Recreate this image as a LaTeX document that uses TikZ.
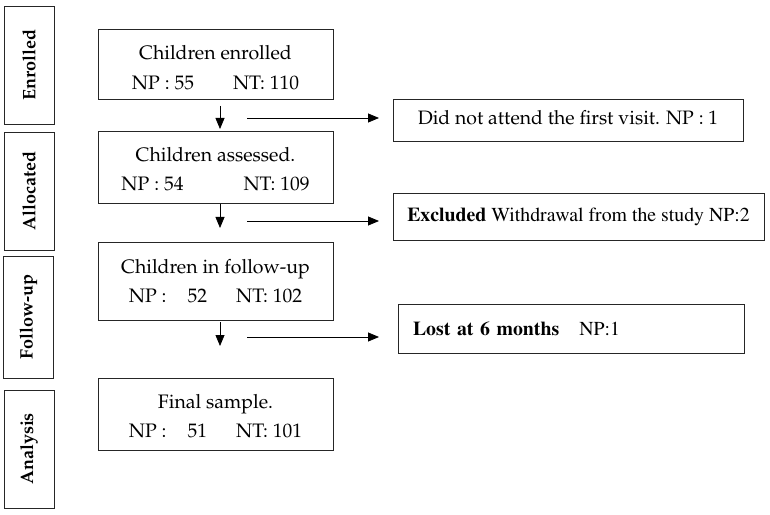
\documentclass[tikz,border=0pt]{standalone}
\usepackage[T1]{fontenc}
\usepackage{mathpazo}
\usepackage{tikz}
\usetikzlibrary{arrows.meta}

\newcommand{\timesfont}{\fontfamily{ptm}\selectfont}
\newcommand{\headroom}[1]{\rule{0pt}{#1}}

\tikzset{
    stagebox/.style = {draw=black!85, line width=0.8bp, rotate=90, minimum width=118bp,
                       minimum height=50bp, inner sep=0pt, font=\fontsize{18bp}{20bp}\selectfont\bfseries},
    countbox/.style = {draw=black!85, line width=0.8bp, minimum width=235bp, inner sep=0pt,
                       align=center, font=\fontsize{19.5bp}{29.5bp}\selectfont},
    dropbox/.style  = {draw=black!85, line width=0.8bp, inner sep=0pt,
                       font=\fontsize{19.4bp}{24bp}\selectfont},
    timesbox/.style = {dropbox, font=\timesfont\fontsize{19.8bp}{24bp}\selectfont},
    flow/.style     = {line width=0.8bp, -{Triangle[length=11bp, width=9bp]}}
}

\begin{document}
\begin{tikzpicture}[x=1bp, y=-1bp]
            \useasboundingbox (0, 0) rectangle (770, 515);

            % stages on the left
            \node[stagebox] (S1) at (29, 65) {Enrolled};
            \node[stagebox] (S2) at (29, 191) {Allocated};
            \node[stagebox, minimum width=122bp] (S3) at (28.5, 317) {Follow-up};
            \node[stagebox] (S4) at (29, 449) {Analysis};

            % counts per stage
            \node[countbox, minimum height=70bp] (C1) at (215.5, 64) {\headroom{21bp}Children enrolled\\NP : 55\hspace{39bp}NT: 110};
            \node[countbox, minimum height=72bp] (C2) at (215.5, 167) {\headroom{18bp}Children assessed.\\NP : 54\hspace{60bp}NT: 109};
            \node[countbox, minimum height=78bp] (C3) at (215.5, 281) {Children in follow-up\\NP :\hspace{21bp}52\hspace{29bp}NT: 102};
            \node[countbox, minimum height=72bp] (C4) at (215.5, 414) {\headroom{18bp}Final sample.\\NP :\hspace{21bp}51\hspace{29bp}NT: 101};

            % children dropped out
            \node[dropbox, minimum width=350bp, minimum height=42bp, text height=14bp, text depth=5bp] (D1) at (568, 120) {Did not attend the first visit. NP : 1};
            \node[timesbox, minimum width=371bp, minimum height=47bp] (D2) at (578.5, 217) {\textbf{Excluded} Withdrawal from the study NP:2};
            \node[timesbox, minimum height=49bp, text width=316bp, inner xsep=15bp, align=left] (D3) at (571, 328.5) {\textbf{Lost at 6 months}\hspace{20bp}NP:1};

            \coordinate (V1a) at (220, 106);
            \coordinate (V1b) at (220, 129);
            \coordinate (V2a) at (220, 204);
            \coordinate (V2b) at (220, 228);
            \coordinate (V3a) at (220, 322);
            \coordinate (V3b) at (220, 346);
            \coordinate (H1a) at (247, 118);
            \coordinate (H1b) at (379, 118);
            \coordinate (H2a) at (247, 221);
            \coordinate (H2b) at (379, 221);
            \coordinate (H3a) at (247, 337);
            \coordinate (H3b) at (379, 337);

            \draw[flow] (V1a) to (V1b);
            \draw[flow] (V2a) to (V2b);
            \draw[flow] (V3a) to (V3b);
            \draw[flow] (H1a) to (H1b);
            \draw[flow] (H2a) to (H2b);
            \draw[flow] (H3a) to (H3b);

        \end{tikzpicture}
\end{document}
